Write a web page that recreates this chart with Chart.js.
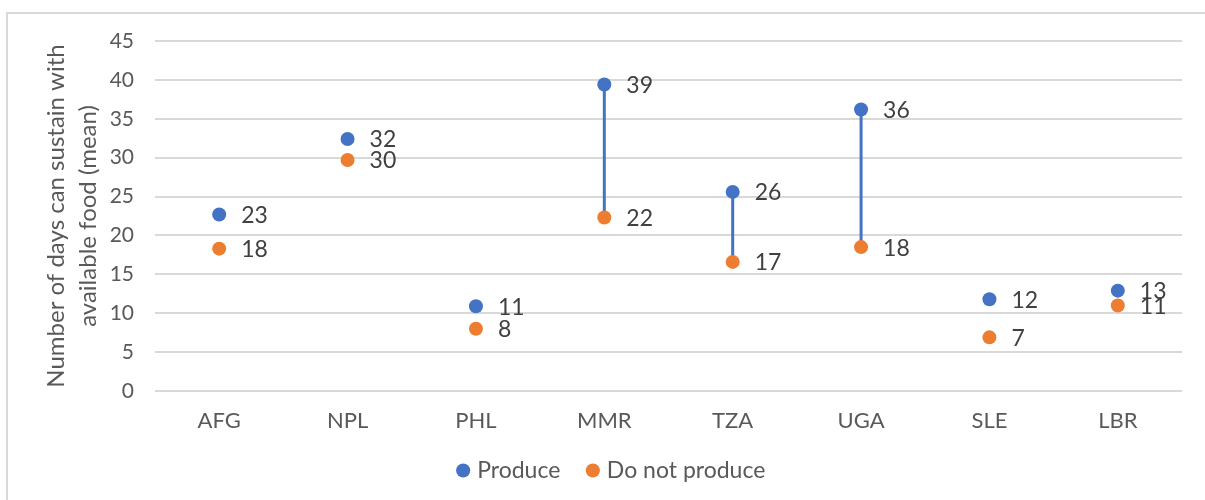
<!DOCTYPE html>
<html>
<head>
<meta charset="utf-8">
<script src="https://cdn.jsdelivr.net/npm/chart.js@4"></script>
<style>
  html, body { margin: 0; padding: 0; background: #fff; overflow: hidden; }
  #frame { position: absolute; left: 6px; top: 12px; width: 1210px; height: 500px;
           border: 2px solid #d9d9d9; box-sizing: border-box; }
  #wrap { position: absolute; left: 0; top: 0; width: 1197px; height: 486px; }
</style>
</head>
<body>
<div id="frame"><div id="wrap"><canvas id="dotChart"></canvas></div></div>
<script>
// Mean days households can sustain on available food, by country
const countries = ['AFG', 'NPL', 'PHL', 'MMR', 'TZA', 'UGA', 'SLE', 'LBR'];
const produce = [22.7, 32.4, 10.9, 39.4, 25.6, 36.2, 11.8, 12.9];
const doNotProduce = [18.3, 29.7, 8.0, 22.3, 16.6, 18.5, 6.9, 11.0];
const produceLabels = ['23', '32', '11', '39', '26', '36', '12', '13'];
const doNotLabels = ['18', '30', '8', '22', '17', '18', '7', '11'];
const linkedCountries = ['MMR', 'TZA', 'UGA'];
const yTicks = [0, 5, 10, 15, 20, 25, 30, 35, 40, 45];

const BLUE = '#4472C4';
const ORANGE = '#ED7D31';
const FONT = 'Lato, "Open Sans", sans-serif';

// high-low lines between the two dots
const linkLines = {
  id: 'linkLines',
  beforeDatasetsDraw(chart) {
    const { ctx, scales: { x, y } } = chart;
    ctx.save();
    ctx.strokeStyle = BLUE;
    ctx.lineWidth = 3;
    linkedCountries.forEach(c => {
      const i = countries.indexOf(c);
      const px = x.getPixelForValue(i);
      ctx.beginPath();
      ctx.moveTo(px, y.getPixelForValue(produce[i]));
      ctx.lineTo(px, y.getPixelForValue(doNotProduce[i]));
      ctx.stroke();
    });
    ctx.restore();
  }
};

// value labels to the right of each dot
const valueLabels = {
  id: 'valueLabels',
  afterDatasetsDraw(chart) {
    const { ctx } = chart;
    ctx.save();
    ctx.font = '23px ' + FONT;
    ctx.fillStyle = '#404040';
    ctx.textBaseline = 'middle';
    ctx.textAlign = 'left';
    [produceLabels, doNotLabels].forEach((labels, d) => {
      chart.getDatasetMeta(d).data.forEach((pt, i) => {
        ctx.fillText(labels[i], pt.x + 22, pt.y + 1);
      });
    });
    ctx.restore();
  }
};

// Excel centres the legend a bit right of the canvas middle
const legendShift = {
  id: 'legendShift',
  afterLayout(chart) {
    chart.legend.left += 18;
    chart.legend.right += 18;
  }
};

const chartCanvas = document.getElementById('dotChart');
new Chart(chartCanvas, {
  type: 'line',
  data: {
    labels: countries,
    datasets: [
      { label: 'Produce', data: produce, showLine: false,
        backgroundColor: BLUE, borderColor: BLUE, pointRadius: 7, pointHoverRadius: 7, pointBorderWidth: 0 },
      { label: 'Do not produce', data: doNotProduce, showLine: false,
        backgroundColor: ORANGE, borderColor: ORANGE, pointRadius: 7, pointHoverRadius: 7, pointBorderWidth: 0 }
    ]
  },
  options: {
    responsive: true,
    maintainAspectRatio: false,
    animation: false,
    layout: { padding: { top: 27, right: 23, bottom: 8, left: 0 } },
    plugins: {
      tooltip: { enabled: false },
      legend: {
        position: 'bottom',
        labels: {
          usePointStyle: true, pointStyle: 'circle', boxWidth: 5, boxHeight: 10,
          padding: 30, color: '#595959', font: { family: FONT, size: 23 }
        }
      }
    },
    scales: {
      x: {
        offset: true,
        grid: { display: false },
        border: { display: false },
        ticks: { color: '#595959', font: { family: FONT, size: 22 }, padding: 9 },
        afterFit(s) { s.height = 38; }
      },
      y: {
        min: 0, max: 45,
        afterBuildTicks(s) { s.ticks = yTicks.map(v => ({ value: v })); },
        grid: { color: '#d9d9d9', lineWidth: 2, drawTicks: false },
        border: { display: false },
        ticks: { color: '#595959', font: { family: FONT, size: 21 }, padding: 21 },
        title: {
          display: true,
          text: ['Number of days can sustain with', 'available food (mean)'],
          color: '#595959', font: { family: FONT, size: 24, lineHeight: 1.35 },
          padding: { top: 32 }
        },
        afterFit(s) { s.width = 147; s.paddingTop = 0; s.paddingBottom = 0; }
      }
    }
  },
  plugins: [linkLines, valueLabels, legendShift]
});
</script>
</body>
</html>
